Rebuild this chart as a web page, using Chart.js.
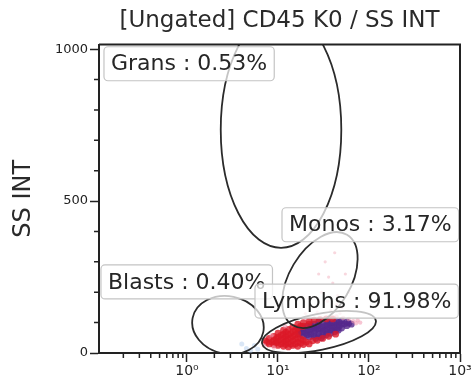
<!DOCTYPE html>
<html>
<head>
<meta charset="utf-8">
<script src="https://cdn.jsdelivr.net/npm/chart.js@4"></script>
<style>
  body { margin: 0; background: #fff; }
  canvas { display: block; }
</style>
</head>
<body>
<canvas id="chart" width="475" height="392"></canvas>
<script>
const FONT = "'DejaVu Sans', sans-serif";

const chartTitle = "[Ungated] CD45 K0 / SS INT";
const yTitle = "SS INT";
const xTickValues = [1, 10, 100, 1000];
const xTickLabels = ["10⁰", "10¹", "10²", "10³"];
const yTickValues = [0, 500, 1000];
const yTickLabels = ["0", "500", "1000"];

// gates: name, percent, ellipse centre, end of the long half-axis, short/long ratio
const gateNames = ["Grans", "Monos", "Blasts", "Lymphs"];
const gatePercents = [0.53, 3.17, 0.40, 91.98];
const gateCenters = [[10.8, 735], [28.9, 240], [2.82, 92], [28.2, 69]];
const gateAxisEnds = [[10.8, 1124], [57.3, 389], [6.89, 68.6], [118.8, 107]];
const gateMinorRatio = [0.51, 0.58, 0.8, 0.31];

// events (CD45, SS)
const lymphRed = [
    [7.3, 40], [7.6, 35], [8, 30], [8, 48], [8.6, 36], [9, 28], [9, 42], [9, 55],
    [9.5, 33], [9.6, 47], [10, 25], [10, 38], [10, 52], [10, 65],
    [10.8, 30], [10.8, 44], [10.8, 58], [11.5, 22], [11.5, 35], [11.5, 48], [11.5, 62], [11.5, 75],
    [12.2, 28], [12.2, 41], [12.2, 55], [12.2, 69], [13, 20], [13, 33], [13, 46], [13, 60], [13, 78],
    [13.8, 30], [13.8, 50], [13.8, 64], [14.5, 25], [14.5, 40], [14.5, 55], [14.5, 70], [14.5, 85],
    [15.5, 30], [15.5, 45], [15.5, 60], [15.5, 76],
    [16.5, 22], [16.5, 35], [16.5, 50], [16.5, 65], [16.5, 82], [16.5, 95],
    [17.8, 32], [17.8, 46], [17.8, 88], [19, 28], [19, 42], [19, 88], [19, 100],
    [20.5, 36], [22, 30], [22, 95], [22, 105], [24, 40],
    [25, 108], [27, 42], [29, 110], [31, 48], [34, 112], [36, 55], [40, 112], [43, 62]
];
const lymphPurple = [
    [17, 62], [17, 75], [18, 68], [19, 55], [19, 70], [19, 80], [20, 65],
    [21, 60], [21, 75], [21, 88], [22, 52], [22, 70], [23, 62], [23, 78], [23, 90], [24, 85],
    [25, 55], [25, 68], [25, 82], [25, 95], [26, 48], [26, 75], [27, 88],
    [28, 55], [28, 65], [28, 78], [28, 92], [28, 102], [30, 50], [30, 78],
    [31, 58], [31, 70], [31, 85], [31, 98], [33, 76], [33, 90], [34, 60],
    [35, 68], [35, 80], [35, 92], [35, 104], [37, 84], [37, 96], [38, 65],
    [39, 75], [39, 88], [39, 100], [42, 70], [42, 85], [42, 98], [44, 78], [44, 92], [44, 104],
    [46, 75], [47, 88], [47, 100], [50, 82], [50, 95], [50, 106], [54, 96], [57, 90], [57, 102], [60, 98], [64, 95]
];
const lymphHalo = [
    [67, 105], [72, 98], [60, 112], [52, 115], [75, 108], [12, 88],
    [8.5, 58], [7, 25], [20, 115], [44, 120], [80, 100], [9, 18]
];
const monoEvents = [
    [25, 150], [30, 200], [35, 170], [40, 230], [45, 190], [28, 260],
    [50, 150], [38, 140], [22, 180], [55, 260], [33, 300], [42, 330],
    [60, 200], [20, 130], [48, 130], [36, 250], [27, 135], [44, 160]
];
const blastEvents = [[4.5, 15], [5.5, 25], [5, 8], [6, 12], [4, 30]];

const toXY = pts => pts.map(p => ({ x: p[0], y: p[1] }));

const gatePlugin = {
    id: "gates",
    afterDatasetsDraw(chart) {
        const { ctx, chartArea: a, scales: { x, y } } = chart;
        ctx.save();
        ctx.beginPath();
        ctx.rect(a.left, a.top, a.right - a.left, a.bottom - a.top);
        ctx.clip();
        ctx.strokeStyle = "#2b2b2b";
        ctx.lineWidth = 1.8;
        gateCenters.forEach((c, i) => {
            const cx = x.getPixelForValue(c[0]), cy = y.getPixelForValue(c[1]);
            const ex = x.getPixelForValue(gateAxisEnds[i][0]), ey = y.getPixelForValue(gateAxisEnds[i][1]);
            const r = Math.hypot(ex - cx, ey - cy);
            ctx.beginPath();
            ctx.ellipse(cx, cy, r, r * gateMinorRatio[i], Math.atan2(ey - cy, ex - cx), 0, Math.PI * 2);
            ctx.stroke();
        });
        ctx.restore();
    }
};

// label boxes, top-left corner in data units
const labelAt = [[0.1225, 1008], [11.07, 478], [0.1135, 290], [5.59, 227]];

const labelPlugin = {
    id: "gateLabels",
    afterDatasetsDraw(chart) {
        const { ctx, scales: { x, y } } = chart;
        ctx.save();
        ctx.font = "22px " + FONT;
        ctx.textBaseline = "middle";
        gateNames.forEach((name, i) => {
            const text = `${name} : ${gatePercents[i].toFixed(2)}%`;
            const left = x.getPixelForValue(labelAt[i][0]);
            const top = y.getPixelForValue(labelAt[i][1]);
            const w = ctx.measureText(text).width + 14, h = 34;
            ctx.beginPath();
            ctx.roundRect(left, top, w, h, 4);
            ctx.fillStyle = "rgba(255,255,255,0.72)";
            ctx.fill();
            ctx.strokeStyle = "#c4c4c4";
            ctx.lineWidth = 1.2;
            ctx.stroke();
            ctx.fillStyle = "#262626";
            ctx.fillText(text, left + 7, top + h / 2 + 1);
        });
        ctx.restore();
    }
};

const framePlugin = {
    id: "frame",
    afterDraw(chart) {
        const { ctx, chartArea: a, scales: { x, y } } = chart;
        ctx.save();
        ctx.strokeStyle = "#222";
        ctx.lineWidth = 2;
        ctx.beginPath();
        ctx.moveTo(a.left, a.top);
        ctx.lineTo(a.right, a.top);
        ctx.lineTo(a.right, a.bottom);
        ctx.stroke();
        // minor ticks
        ctx.lineWidth = 1.5;
        ctx.beginPath();
        for (let d = -1; d <= 2; d++) {
            for (let k = 2; k <= 9; k++) {
                const v = k * Math.pow(10, d);
                if (v < x.min || v > x.max) continue;
                const px = x.getPixelForValue(v);
                ctx.moveTo(px, a.bottom);
                ctx.lineTo(px, a.bottom + 5);
            }
        }
        for (let v = 100; v < 1000; v += 100) {
            if (v === 500) continue;
            const py = y.getPixelForValue(v);
            ctx.moveTo(a.left, py);
            ctx.lineTo(a.left - 5, py);
        }
        ctx.stroke();
        ctx.restore();
    }
};

new Chart(document.getElementById("chart"), {
    type: "scatter",
    data: {
        datasets: [
            { data: toXY(monoEvents), backgroundColor: "rgba(235,140,160,0.35)", pointRadius: 1.6 },
            { data: toXY(blastEvents), backgroundColor: "rgba(170,200,235,0.45)", pointRadius: 2.5 },
            { data: toXY(lymphHalo), backgroundColor: "rgba(240,150,175,0.55)", pointRadius: 2.2 },
            { data: toXY(lymphRed), backgroundColor: "rgba(220,25,40,0.8)", pointRadius: 3.4 },
            { data: toXY(lymphPurple), backgroundColor: "rgba(85,40,140,0.8)", pointRadius: 3.4 }
        ]
    },
    options: {
        responsive: false,
        animation: false,
        events: [],
        elements: { point: { borderWidth: 0, hoverRadius: 0 } },
        layout: { padding: { left: 0, right: 15, top: 0, bottom: 0 } },
        plugins: {
            legend: { display: false },
            tooltip: { enabled: false },
            title: {
                display: true,
                text: chartTitle,
                fullSize: false,
                color: "#2a2a2a",
                font: { family: FONT, size: 23, weight: "normal" },
                padding: { top: 7, bottom: 10 }
            }
        },
        scales: {
            x: {
                type: "logarithmic",
                min: 0.108,
                max: 1000,
                afterBuildTicks: s => { s.ticks = xTickValues.map(v => ({ value: v })); },
                afterFit: s => { s.height = 39; },
                ticks: {
                    callback: (v, i) => xTickLabels[i],
                    color: "#222",
                    font: { family: FONT, size: 14 },
                    padding: 1,
                    maxRotation: 0,
                    autoSkip: false
                },
                grid: { display: true, drawOnChartArea: false, tickLength: 9, tickWidth: 1.5, tickColor: "#222" },
                border: { color: "#222", width: 2 }
            },
            y: {
                type: "linear",
                min: 0,
                max: 1015,
                afterBuildTicks: s => { s.ticks = yTickValues.map(v => ({ value: v })); },
                afterFit: s => { s.width = 99; },
                ticks: {
                    callback: (v, i) => yTickLabels[i],
                    color: "#222",
                    font: { family: FONT, size: 13 },
                    padding: 2
                },
                grid: { display: true, drawOnChartArea: false, tickLength: 9, tickWidth: 1.5, tickColor: "#222" },
                border: { color: "#222", width: 2 },
                title: {
                    display: true,
                    text: yTitle,
                    color: "#2a2a2a",
                    font: { family: FONT, size: 24, weight: "normal" },
                    padding: { top: 9, bottom: 0 }
                }
            }
        }
    },
    plugins: [gatePlugin, labelPlugin, framePlugin]
});
</script>
</body>
</html>
